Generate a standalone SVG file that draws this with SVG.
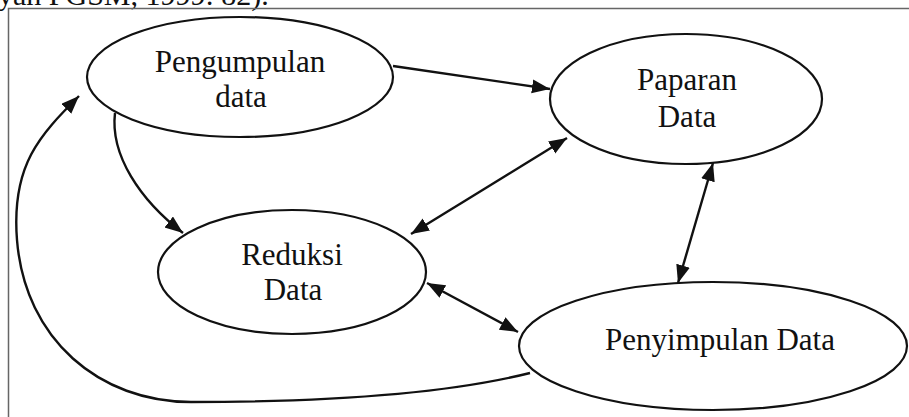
<svg xmlns="http://www.w3.org/2000/svg" width="909" height="417" viewBox="0 0 909 417">
<style>
.node ellipse{fill:#fff;stroke:#111;stroke-width:2.2}
.lbl{font-family:"Liberation Serif","Times New Roman",serif;font-size:31px;fill:#111;text-anchor:middle}
.edge{fill:none;stroke:#111;stroke-width:2.4}
</style>
<defs>
<marker id="ah" markerUnits="userSpaceOnUse" markerWidth="20" markerHeight="16" refX="18" refY="7" orient="auto-start-reverse" viewBox="0 0 20 16">
<path d="M0,0 L18,7 L0,14 z" fill="#111"/>
</marker>
</defs>
<rect width="909" height="417" fill="#fff"/>
<text x="-2" y="5" font-family="Liberation Serif,serif" font-size="30" fill="#111">yah PGSM, 1999: 82).</text>
<path d="M8.5,417 V8.5 H909" fill="none" stroke="#666" stroke-width="1.5"/>
<g id="connectors">
<path class="edge" d="M393,66 L550,89" marker-end="url(#ah)"/>
<path class="edge" d="M411,234 L567,138" marker-start="url(#ah)" marker-end="url(#ah)"/>
<path class="edge" d="M427,283 L518,332" marker-start="url(#ah)" marker-end="url(#ah)"/>
<path class="edge" d="M713,163 L678,283" marker-start="url(#ah)" marker-end="url(#ah)"/>
<path class="edge" d="M115,113 C110,155 140,200 183,233" marker-end="url(#ah)"/>
<path class="edge" d="M530,373 C430,398 290,402 191,402 C100,402 25,340 17,240 C11,165 40,135 79,96" marker-end="url(#ah)"/>
</g>
<g id="pengumpulan" class="node">
<ellipse cx="240" cy="77" rx="153" ry="60"/>
<text class="lbl" x="240" y="72">Pengumpulan</text>
<text class="lbl" x="241" y="107">data</text>
</g>
<g id="paparan" class="node">
<ellipse cx="686" cy="99" rx="136" ry="65"/>
<text class="lbl" x="687" y="90">Paparan</text>
<text class="lbl" x="687" y="127">Data</text>
</g>
<g id="reduksi" class="node">
<ellipse cx="292" cy="272" rx="134" ry="62"/>
<text class="lbl" x="292" y="265">Reduksi</text>
<text class="lbl" x="293" y="300">Data</text>
</g>
<g id="penyimpulan" class="node">
<ellipse cx="713" cy="346" rx="194" ry="64"/>
<text class="lbl" x="720" y="350">Penyimpulan Data</text>
</g>
</svg>
